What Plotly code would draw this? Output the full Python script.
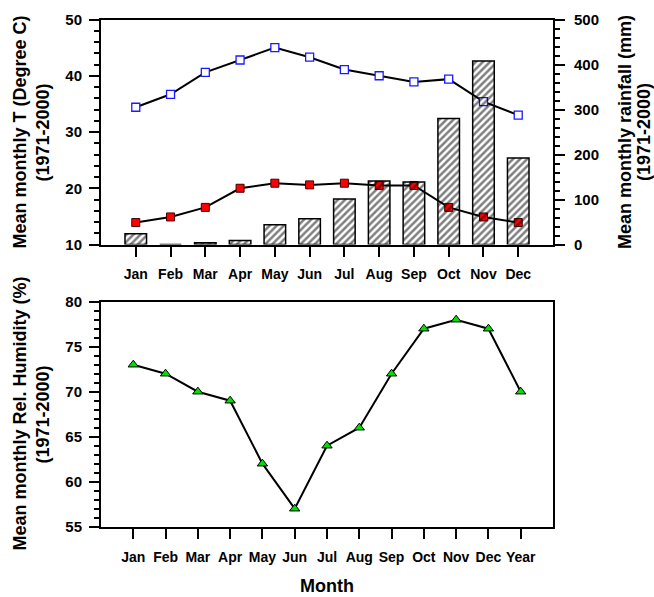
import plotly.graph_objects as go

months = ["Jan", "Feb", "Mar", "Apr", "May", "Jun", "Jul", "Aug", "Sep", "Oct", "Nov", "Dec"]
months_year = months + ["Year"]

t_max = [34.4, 36.7, 40.6, 42.8, 45.0, 43.3, 41.1, 40.0, 38.9, 39.4, 35.4, 33.0]
t_min = [13.9, 14.9, 16.6, 20.0, 20.9, 20.6, 20.9, 20.5, 20.5, 16.6, 14.9, 13.9]
rainfall = [24, 0, 4, 9, 44, 57, 101, 141, 139, 280, 408, 192]
humidity = [73, 72, 70, 69, 62, 57, 64, 66, 72, 77, 78, 77, 70]

W, H = 654, 597
FONT = "Liberation Sans, Arial, sans-serif"

def px_x(p):
    return p / W

def px_y(p):
    return 1 - p / H

fig = go.Figure()

fig.add_trace(go.Scatter(
    x=months, y=t_max, mode="lines+markers", xaxis="x", yaxis="y",
    line=dict(color="black", width=2),
    marker=dict(symbol="square", size=8, color="white", line=dict(color="#1a1aff", width=1.3)),
))
fig.add_trace(go.Scatter(
    x=months, y=t_min, mode="lines+markers", xaxis="x", yaxis="y",
    line=dict(color="black", width=2),
    marker=dict(symbol="square", size=8, color="#ff0000", line=dict(color="#400000", width=1)),
))
fig.add_trace(go.Bar(
    x=months, y=rainfall, xaxis="x", yaxis="y2", width=0.62,
    marker=dict(color="rgba(0,0,0,0)", line=dict(color="black", width=1.5),
                pattern=dict(shape="/", size=5, solidity=0.5, fgcolor="black",
                             bgcolor="rgba(0,0,0,0)", fillmode="overlay")),
))
fig.add_trace(go.Scatter(
    x=months_year, y=humidity, mode="lines+markers", xaxis="x2", yaxis="y3",
    line=dict(color="black", width=2),
    marker=dict(symbol="triangle-up", size=9, color="#00e000", line=dict(color="black", width=1)),
))

tickfont = dict(family=FONT, size=14, color="black", weight="bold")
ytickfont = dict(family=FONT, size=15, color="black", weight="bold")
common = dict(showline=True, linecolor="black", linewidth=2, showgrid=False, zeroline=False,
              ticks="outside", ticklen=10, tickwidth=2, tickcolor="black", automargin=False)

top_dom = [px_y(244.5), px_y(19.5)]
bot_dom = [px_y(526.7), px_y(301.7)]
xdom = [px_x(101), px_x(553)]

fig.update_layout(
    width=W, height=H, margin=dict(l=0, r=0, t=0, b=0, autoexpand=False),
    paper_bgcolor="white", plot_bgcolor="white", showlegend=False,
    xaxis=dict(domain=xdom, anchor="y", type="category", range=[-1, 12],
               mirror=True, tickfont=tickfont, ticklabelstandoff=6, **common),
    yaxis=dict(domain=top_dom, anchor="x", range=[10, 50], dtick=10, tick0=10,
               tickfont=ytickfont, ticklabelstandoff=4,
               minor=dict(dtick=2, ticks="outside", ticklen=5, tickwidth=1.5, tickcolor="black"),
               **common),
    yaxis2=dict(overlaying="y", anchor="x", side="right", range=[0, 500], dtick=100,
                tickfont=ytickfont, ticklabelstandoff=6,
                minor=dict(dtick=20, ticks="outside", ticklen=5, tickwidth=1.5, tickcolor="black"),
                **common),
    xaxis2=dict(domain=xdom, anchor="y3", type="category", range=[-1, 13],
                mirror=True, tickfont=tickfont, ticklabelstandoff=6, **common),
    yaxis3=dict(domain=bot_dom, anchor="x2", range=[55, 80], dtick=5, tick0=55,
                mirror=True, tickfont=ytickfont, ticklabelstandoff=4,
                minor=dict(dtick=1, ticks="outside", ticklen=5, tickwidth=1.5, tickcolor="black"),
                **common),
)

titlefont = dict(family=FONT, size=18, color="black", weight="bold")
annots = [
    ("Mean monthly T (Degree C)", 19.5, 132),
    ("(1971-2000)", 42.5, 132),
    ("Mean monthly rainfall (mm)", 625, 132),
    ("(1971-2000)", 644, 132),
    ("Mean monthly Rel. Humidity (%)", 19.5, 414),
    ("(1971-2000)", 42.5, 414),
]
for text, ax, ay in annots:
    fig.add_annotation(text=text, x=px_x(ax), y=px_y(ay), xref="paper", yref="paper",
                       textangle=-90, showarrow=False, xanchor="center", yanchor="middle",
                       font=titlefont)
fig.add_annotation(text="Month", x=px_x(327), y=px_y(586), xref="paper", yref="paper",
                   showarrow=False, xanchor="center", yanchor="middle", font=titlefont)

fig.write_html("out.html", config={"displayModeBar": False},
               post_script="document.body.style.margin='0';document.body.style.overflow='hidden';")
